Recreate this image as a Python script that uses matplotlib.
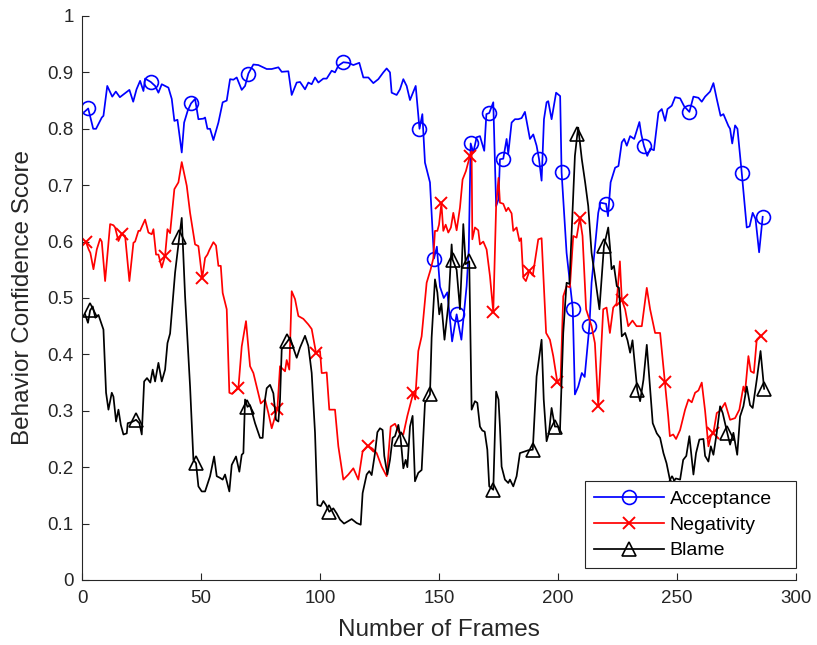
import matplotlib
matplotlib.use('Agg')
import matplotlib.pyplot as plt

plt.rcParams['font.family'] = ['Liberation Sans', 'DejaVu Sans']

# Acceptance (blue): frames and scores
acc_frames = [1, 2.6, 4.7, 5.9, 8.3, 9, 10.6, 12.7, 14.2, 15.9, 19.9, 21.5, 22.9, 24.4, 25.8, 26.5, 28.9,
              30.7, 32.1, 33.5, 36.3, 37.7, 38.8, 40.1, 41.9, 42.9, 44.4, 45.8, 47.5, 48.9, 51.0, 51.7,
              52.7, 53.8, 55.2, 57.3, 59.1, 60.8, 62.2, 63.6, 65.0, 67.1, 68.5, 69.9, 72.0, 74.1, 77.6,
              79.7, 82.5, 83.9, 86.7, 88.1, 90.2, 91.6, 93.7, 95.1, 96.5, 97.9, 99.3, 101.4, 102.8,
              104.9, 106.3, 107.7, 109.8, 111.9, 114.0, 116.5, 118.2, 120.3, 122.4, 124.5, 126.6,
              128.0, 129.4, 130.1, 132.2, 133.6, 135.0, 136.4, 137.8, 140.2, 141.8, 143.0, 144.1,
              146.2, 147.6, 147.9, 149.1, 150.4, 152.0, 153.5, 155.5, 157.4, 159.4, 161.6, 162.5,
              163.3, 164.4, 165.8, 167.2, 169.0, 169.9, 171.1, 172.8, 174.0, 175.0, 175.6, 177.0,
              178.4, 179.1, 180.5, 181.9, 183.3, 184.7, 186.1, 188.2, 189.6, 191.0, 192.0, 193.1,
              194.1, 195.2, 195.9, 197.3, 199.2, 200.9, 201.5, 203.6, 206.2, 207.1, 208.5, 210.0,
              211.2, 213.2, 214.1, 216.9, 217.8, 220.2, 221.0, 222.1, 224.0, 225.4, 226.8, 227.8,
              228.9, 230.3, 232.0, 234.2, 235.0, 236.1, 237.5, 238.8, 240.3, 242.2, 243.6, 245.0,
              246.0, 247.8, 249.2, 251.3, 253.0, 255.2, 256.9, 259.0, 260.4, 261.8, 263.9, 265.3,
              266.7, 268.3, 269.5, 271.6, 272.3, 273.2, 274.4, 275.4, 277.2, 279.3, 280.5, 281.8,
              283.0, 284.5, 286.0]
acc_vals = [0.83, 0.836, 0.80, 0.80, 0.82, 0.823, 0.876, 0.857, 0.866, 0.856, 0.869, 0.848, 0.870,
            0.885, 0.867, 0.889, 0.883, 0.876, 0.864, 0.879, 0.873, 0.853, 0.814, 0.816, 0.758,
            0.811, 0.832, 0.845, 0.853, 0.817, 0.818, 0.820, 0.80, 0.80, 0.780, 0.811, 0.847,
            0.850, 0.888, 0.887, 0.891, 0.869, 0.876, 0.898, 0.914, 0.913, 0.906, 0.906, 0.909,
            0.901, 0.902, 0.860, 0.882, 0.883, 0.870, 0.882, 0.879, 0.891, 0.882, 0.889, 0.889,
            0.903, 0.900, 0.912, 0.918, 0.917, 0.913, 0.917, 0.891, 0.891, 0.881, 0.888, 0.900,
            0.907, 0.900, 0.864, 0.860, 0.870, 0.888, 0.876, 0.851, 0.876, 0.800, 0.826, 0.740,
            0.705, 0.592, 0.570, 0.591, 0.520, 0.500, 0.510, 0.423, 0.471, 0.426, 0.521, 0.586,
            0.774, 0.758, 0.785, 0.787, 0.761, 0.826, 0.828, 0.847, 0.663, 0.675, 0.746, 0.747,
            0.782, 0.756, 0.811, 0.817, 0.817, 0.819, 0.830, 0.782, 0.790, 0.770, 0.747, 0.708,
            0.817, 0.847, 0.849, 0.817, 0.864, 0.858, 0.723, 0.580, 0.481, 0.329, 0.343, 0.367,
            0.360, 0.451, 0.527, 0.651, 0.669, 0.667, 0.645, 0.705, 0.731, 0.734, 0.776, 0.782,
            0.770, 0.787, 0.782, 0.812, 0.790, 0.770, 0.752, 0.765, 0.762, 0.829, 0.835, 0.814,
            0.835, 0.841, 0.856, 0.854, 0.840, 0.830, 0.857, 0.855, 0.848, 0.857, 0.866, 0.881,
            0.853, 0.823, 0.826, 0.805, 0.800, 0.774, 0.806, 0.800, 0.722, 0.625, 0.627, 0.651,
            0.640, 0.581, 0.644]
acc_marks = [2.6, 28.9, 45.8, 69.9, 109.8, 141.8, 147.9, 157.4, 163.3, 171.1, 177.0, 192.0,
             201.5, 206.2, 213.2, 220.2, 236.1, 255.2, 277.2, 286.0]

# Negativity (red)
neg_frames = [1.7, 2.8, 3.5, 4.8, 6.2, 7.6, 8.3, 9.7, 11.8, 13.2, 13.9, 15.3, 16.7, 18.1, 19.9,
              21.6, 22.3, 23.7, 24.4, 25.1, 26.5, 27.9, 29.3, 30.0, 31.1, 32.1, 33.5, 34.9, 35.9,
              37.0, 38.8, 40.5, 41.9, 44.0, 45.4, 47.5, 48.9, 50.5, 51.7, 52.7, 53.5, 55.2, 56.3,
              57.3, 58.3, 59.1, 60.8, 61.9, 63.0, 65.7, 67.1, 68.9, 70.6, 72.0, 73.7, 75.1, 76.9,
              78.3, 79.7, 82.1, 83.2, 85.3, 86.0, 87.1, 88.1, 89.5, 90.9, 93.0, 95.1, 96.5, 98.3,
              100.0, 100.7, 101.4, 102.8, 103.9, 106.3, 107.7, 109.8, 111.9, 114.0, 116.1, 117.9,
              120.0, 122.0, 123.8, 125.9, 128.0, 129.7, 131.5, 133.3, 135.0, 136.7, 139.2, 140.0,
              141.3, 142.7, 144.8, 146.5, 147.6, 148.3, 149.3, 150.0, 151.0, 151.8, 152.8, 153.9,
              155.0, 156.0, 157.4, 158.8, 159.9, 161.3, 163.0, 163.7, 164.0, 165.1, 166.5, 167.2,
              168.6, 170.0, 171.4, 172.8, 174.0, 175.0, 175.6, 177.0, 178.2, 179.1, 180.5, 181.2,
              182.6, 183.8, 184.5, 185.4, 186.5, 188.0, 189.4, 191.7, 193.1, 195.0, 196.6, 198.0,
              199.7, 201.0, 202.2, 203.6, 205.0, 206.4, 207.8, 209.2, 210.3, 211.8, 214.1, 215.5,
              216.9, 219.0, 220.4, 221.8, 223.2, 224.6, 226.0, 226.8, 228.2, 229.5, 231.3, 233.0,
              235.2, 237.3, 238.7, 240.8, 242.9, 244.9, 246.3, 247.0, 248.4, 249.6, 251.3, 253.4,
              254.8, 256.2, 257.6, 259.0, 260.4, 261.8, 263.2, 264.2, 265.3, 266.7, 268.1, 270.2,
              272.3, 274.4, 276.2, 277.9, 278.6, 280.0, 281.0, 282.3, 283.5, 285.1]
neg_vals = [0.599, 0.586, 0.580, 0.551, 0.586, 0.605, 0.600, 0.530, 0.631, 0.629, 0.625, 0.601,
            0.614, 0.610, 0.530, 0.598, 0.600, 0.619, 0.619, 0.626, 0.639, 0.616, 0.613, 0.622,
            0.577, 0.577, 0.554, 0.575, 0.622, 0.615, 0.693, 0.705, 0.741, 0.699, 0.651, 0.595,
            0.592, 0.535, 0.571, 0.577, 0.585, 0.599, 0.593, 0.557, 0.557, 0.509, 0.480, 0.332,
            0.330, 0.340, 0.414, 0.459, 0.379, 0.367, 0.337, 0.313, 0.320, 0.296, 0.269, 0.304,
            0.379, 0.370, 0.390, 0.373, 0.512, 0.498, 0.468, 0.463, 0.453, 0.445, 0.403, 0.406,
            0.367, 0.367, 0.368, 0.302, 0.302, 0.237, 0.178, 0.187, 0.198, 0.178, 0.228, 0.238,
            0.233, 0.225, 0.201, 0.184, 0.272, 0.277, 0.261, 0.258, 0.291, 0.332, 0.320, 0.406,
            0.432, 0.527, 0.551, 0.570, 0.619, 0.619, 0.630, 0.668, 0.619, 0.630, 0.616, 0.625,
            0.651, 0.620, 0.660, 0.710, 0.725, 0.752, 0.760, 0.604, 0.625, 0.620, 0.595, 0.600,
            0.586, 0.539, 0.475, 0.663, 0.713, 0.669, 0.667, 0.654, 0.660, 0.650, 0.619, 0.625,
            0.601, 0.606, 0.536, 0.530, 0.548, 0.540, 0.604, 0.606, 0.438, 0.426, 0.397, 0.351,
            0.345, 0.503, 0.521, 0.519, 0.610, 0.607, 0.642, 0.610, 0.480, 0.450, 0.420, 0.308,
            0.480, 0.483, 0.438, 0.483, 0.490, 0.565, 0.497, 0.480, 0.450, 0.460, 0.450, 0.450,
            0.518, 0.480, 0.438, 0.438, 0.351, 0.290, 0.255, 0.258, 0.250, 0.266, 0.302, 0.320,
            0.315, 0.332, 0.336, 0.350, 0.300, 0.237, 0.255, 0.261, 0.296, 0.300, 0.314, 0.284,
            0.287, 0.302, 0.343, 0.333, 0.397, 0.370, 0.367, 0.426, 0.433]
neg_marks = [1.7, 16.7, 34.9, 50.5, 65.7, 82.1, 98.3, 120.0, 139.2, 151.0, 163.0, 172.8, 188.0,
             199.7, 209.2, 216.9, 226.8, 244.9, 265.3, 285.1]

# Blame (black)
bla_frames = [1.3, 2.5, 3.4, 4.5, 5.6, 6.9, 9.0, 10.1, 11.1, 12.5, 13.2, 14.3, 15.3, 16.3, 17.4,
              18.8, 19.2, 20.9, 22.7, 24.1, 25.1, 26.1, 27.3, 28.7, 29.7, 30.7, 32.1, 33.5, 34.9,
              35.9, 37.0, 39.1, 40.9, 41.9, 43.3, 45.4, 46.8, 47.9, 48.9, 50.3, 51.7, 53.8, 55.5,
              56.6, 58.0, 59.1, 60.1, 61.9, 62.9, 64.7, 66.1, 67.1, 67.8, 68.5, 69.5, 70.6, 72.7,
              74.8, 75.9, 76.9, 77.6, 79.0, 80.4, 81.5, 82.5, 83.2, 83.9, 84.9, 86.3, 87.4, 88.5,
              90.2, 91.6, 93.7, 95.1, 96.5, 97.9, 98.9, 100.3, 101.4, 102.5, 103.9, 105.6, 107.0,
              108.4, 110.1, 113.3, 115.4, 117.1, 117.9, 119.6, 120.7, 121.7, 123.1, 124.1, 125.2,
              126.3, 127.0, 128.3, 129.4, 130.5, 131.5, 132.9, 133.9, 135.0, 136.0, 136.7, 137.8,
              138.9, 139.9, 141.3, 142.7, 144.1, 146.2, 146.9, 148.3, 149.3, 150.1, 151.0, 152.3,
              154.0, 155.3, 155.7, 157.4, 158.8, 159.5, 160.2, 161.2, 162.7, 163.7, 165.1, 166.1,
              167.2, 168.2, 169.2, 170.3, 171.1, 172.8, 174.0, 175.0, 175.6, 176.3, 177.7, 179.1,
              179.8, 181.2, 182.6, 184.0, 185.4, 187.5, 189.4, 191.0, 193.1, 194.0, 195.2, 196.2,
              197.3, 198.7, 200.0, 200.8, 202.2, 203.6, 204.8, 207.1, 208.1, 208.5, 210.0, 211.4,
              212.7, 214.1, 215.5, 217.4, 218.8, 219.3, 221.1, 221.8, 222.5, 223.5, 224.7, 225.6,
              226.8, 228.2, 229.2, 230.3, 231.3, 233.3, 234.5, 235.9, 237.3, 238.4, 239.8, 241.5,
              242.9, 244.3, 245.6, 247.0, 248.0, 249.5, 251.3, 252.6, 253.9, 255.2, 256.9, 258.0,
              259.4, 261.1, 261.8, 263.2, 264.2, 265.3, 266.7, 268.1, 269.2, 271.1, 272.3, 273.7,
              275.3, 276.5, 277.9, 279.3, 280.7, 281.8, 283.5, 285.1, 286.6]
bla_vals = [0.471, 0.456, 0.478, 0.485, 0.465, 0.470, 0.444, 0.332, 0.302, 0.332, 0.325, 0.281,
            0.302, 0.275, 0.258, 0.260, 0.278, 0.280, 0.284, 0.278, 0.258, 0.352, 0.358, 0.350,
            0.373, 0.352, 0.385, 0.352, 0.373, 0.420, 0.437, 0.545, 0.609, 0.642, 0.503, 0.343,
            0.213, 0.207, 0.166, 0.157, 0.157, 0.184, 0.219, 0.184, 0.181, 0.178, 0.187, 0.157,
            0.204, 0.219, 0.192, 0.222, 0.225, 0.320, 0.307, 0.310, 0.278, 0.252, 0.252, 0.320,
            0.340, 0.346, 0.331, 0.284, 0.281, 0.320, 0.409, 0.415, 0.423, 0.430, 0.415, 0.394,
            0.412, 0.433, 0.415, 0.367, 0.261, 0.133, 0.131, 0.140, 0.133, 0.121, 0.127, 0.118,
            0.107, 0.100, 0.108, 0.101, 0.098, 0.154, 0.187, 0.193, 0.186, 0.225, 0.262, 0.269,
            0.266, 0.220, 0.187, 0.213, 0.252, 0.255, 0.275, 0.250, 0.198, 0.213, 0.200, 0.272,
            0.291, 0.175, 0.190, 0.195, 0.314, 0.329, 0.430, 0.533, 0.510, 0.471, 0.490, 0.426,
            0.491, 0.595, 0.568, 0.550, 0.480, 0.550, 0.631, 0.560, 0.565, 0.302, 0.317, 0.314,
            0.272, 0.265, 0.263, 0.231, 0.166, 0.160, 0.334, 0.320, 0.272, 0.201, 0.178, 0.172,
            0.178, 0.166, 0.184, 0.225, 0.227, 0.230, 0.231, 0.361, 0.426, 0.320, 0.246, 0.261,
            0.305, 0.272, 0.272, 0.261, 0.438, 0.527, 0.525, 0.752, 0.790, 0.802, 0.746, 0.705,
            0.663, 0.580, 0.539, 0.480, 0.562, 0.592, 0.625, 0.592, 0.551, 0.557, 0.521, 0.518,
            0.432, 0.438, 0.425, 0.403, 0.425, 0.337, 0.317, 0.355, 0.417, 0.355, 0.278, 0.260,
            0.252, 0.225, 0.207, 0.178, 0.172, 0.180, 0.178, 0.213, 0.220, 0.255, 0.187, 0.225,
            0.249, 0.250, 0.220, 0.210, 0.237, 0.222, 0.261, 0.308, 0.296, 0.261, 0.240, 0.261,
            0.222, 0.290, 0.308, 0.343, 0.310, 0.305, 0.355, 0.406, 0.339]
bla_marks = [3.4, 22.7, 40.9, 47.9, 69.5, 86.3, 103.9, 133.9, 146.2, 155.7, 162.7, 172.8, 189.4,
             198.7, 208.1, 219.3, 233.3, 248.0, 271.1, 286.6]

series_names = ['Acceptance', 'Negativity', 'Blame']


def mark_idx(frames, marks):
    return [frames.index(m) for m in marks]


fig = plt.figure(figsize=(8.17, 6.45), dpi=100)
ax = fig.add_axes([0.1004, 0.1008, 0.8739, 0.8744])

ax.plot(acc_frames, acc_vals, color='#0000ff', lw=1.25, marker='o', ms=10, mfc='none',
        mew=1.2, markevery=mark_idx(acc_frames, acc_marks), label=series_names[0])
ax.plot(neg_frames, neg_vals, color='#ff0000', lw=1.25, marker='x', ms=8, mew=1.4,
        markevery=mark_idx(neg_frames, neg_marks), label=series_names[1])
ax.plot(bla_frames, bla_vals, color='#000000', lw=1.25, marker='^', ms=10.5, mfc='none',
        mew=1.2, markevery=mark_idx(bla_frames, bla_marks), label=series_names[2])

ax.set_xlim(0, 300)
ax.set_ylim(0, 1)
ax.set_xticks(range(0, 301, 50))
ax.set_yticks([i / 10 for i in range(11)])
ax.set_yticklabels(['0', '0.1', '0.2', '0.3', '0.4', '0.5', '0.6', '0.7', '0.8', '0.9', '1'])
ax.tick_params(direction='in', length=5, width=0.8, labelsize=13.5, colors='#262626')
ax.tick_params(axis='x', pad=7)
ax.tick_params(axis='y', pad=6)
ax.spines['top'].set_visible(False)
ax.spines['right'].set_visible(False)
for s in ('left', 'bottom'):
    ax.spines[s].set_color('#262626')
    ax.spines[s].set_linewidth(0.8)

ax.set_xlabel('Number of Frames', fontsize=17.5, color='#262626', labelpad=9)
ax.set_ylabel('Behavior Confidence Score', fontsize=17.5, color='#262626', labelpad=10)

leg = ax.legend(loc='lower left', bbox_to_anchor=(0.7045, 0.021, 0.2955, 0.2), mode='expand',
                borderaxespad=0, fontsize=14, frameon=True, fancybox=False, handlelength=3.6,
                handletextpad=0.3, labelspacing=0.42, borderpad=0.45)
leg.get_frame().set_edgecolor('#262626')
leg.get_frame().set_linewidth(0.8)
leg.get_frame().set_alpha(1)

fig.savefig('out.png', dpi=100)
